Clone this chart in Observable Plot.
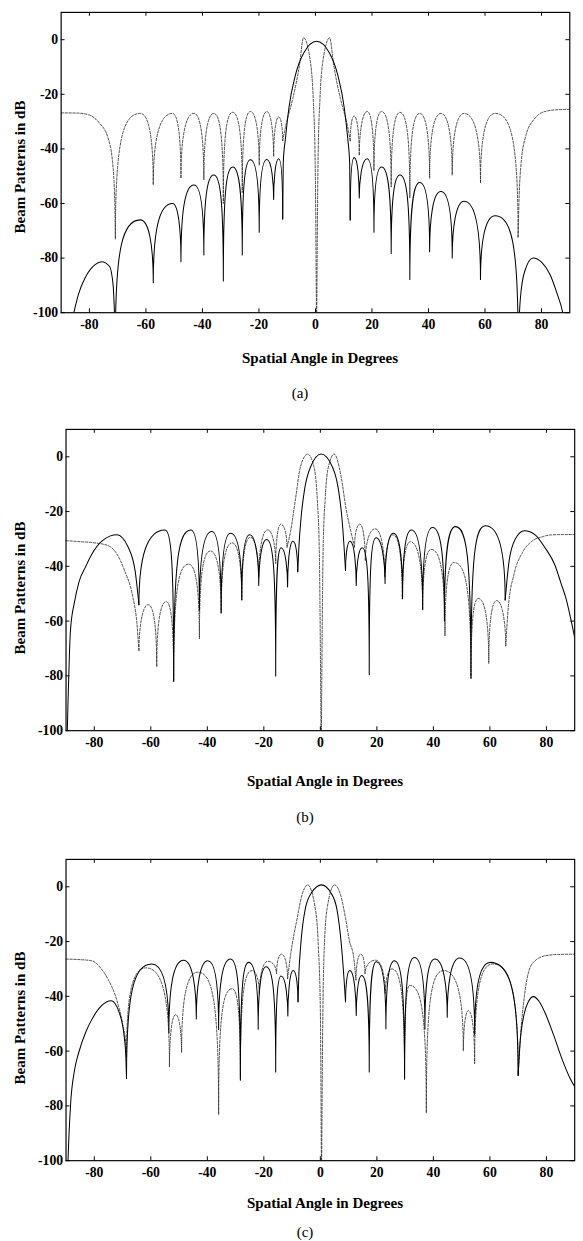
<!DOCTYPE html>
<html><head><meta charset="utf-8">
<script src="https://cdn.jsdelivr.net/npm/d3@7"></script>
<script src="https://cdn.jsdelivr.net/npm/@observablehq/plot@0.6"></script>
<style>
html,body{margin:0;padding:0;background:#fff;overflow:hidden;width:583px;height:1241px;}
#root{position:relative;width:583px;height:1241px;overflow:hidden;font-family:"Liberation Serif","Times New Roman",Times,"DejaVu Serif",serif;color:#000;}
#root svg{position:absolute;left:0;}
.ylab{position:absolute;font-weight:bold;font-size:15px;white-space:nowrap;transform:translate(-50%,-50%) rotate(-90deg);}
.xlab{position:absolute;font-weight:bold;font-size:15px;white-space:nowrap;transform:translate(-50%,-50%);}
.cap{position:absolute;font-size:15px;white-space:nowrap;transform:translate(-50%,-50%);}
</style></head><body><div id="root"></div>
<script>
// ---- axis ticks and labels ----
const xTicks = [-80, -60, -40, -20, 0, 20, 40, 60, 80];
const yTicks = [0, -20, -40, -60, -80, -100];
const yTitle = "Beam Patterns in dB";
const xTitle = "Spatial Angle in Degrees";
const captions = ["(a)", "(b)", "(c)"];

// ---- panel (a): sum pattern (solid) ----
const aSumEdgeL = [[-87.5,-110],[-85.5,-100],[-83.8,-93],[-81.5,-87.2],[-78,-82.4],[-75.7,-81.3],[-72.9,-83],[-71.6,-90],[-70.8,-110]];
const aSumSideL = [[-70.8,-110],[-62,-66],[-57.4,-89],[-50.6,-60],[-47.6,-81.3],[-43,-53.2],[-39.5,-78.9],[-36,-49.6],[-32.6,-88.4],[-29.3,-46.6],[-25.9,-78.9],[-23,-44],[-19.9,-70.5],[-17.2,-43.9],[-14.8,-58.5],[-13,-43.6],[-11.6,-65.7]];
const aSumMain  = [[-11.6,-65.7],[-11.4,-45],[-10.6,-36],[-9.4,-25],[-7.1,-13],[-4.1,-4.8],[0.4,-0.6],[4.9,-4.8],[7.9,-13],[10.2,-25],[11.4,-36],[12.1,-45],[12.3,-66]];
const aSumSideR = [[12.3,-66],[13.7,-43.2],[15.5,-58],[18.3,-43.6],[20.7,-70.5],[23.4,-46.6],[26.8,-78.3],[29.9,-49.6],[33.4,-87.8],[36.9,-52.3],[40.4,-77.7],[44.4,-55.6],[48.4,-80],[52.6,-59.2],[58.4,-87.8],[63.6,-64.5],[71.7,-110]];
const aSumEdgeR = [[71.7,-110],[72.5,-95],[74,-85],[77,-80],[80,-81.5],[83,-86],[85.5,-93],[87.5,-100],[89,-110]];
// ---- panel (a): difference pattern (dashed) ----
const aDifEdgeL = [[-90,-26.8],[-84,-26.9],[-80.3,-27.5],[-76.5,-30.5],[-73.4,-36],[-71.8,-45],[-71,-60],[-70.8,-73]];
const aDifSideL = [[-70.8,-73],[-62,-27],[-57.4,-53.2],[-50.6,-27],[-47.6,-50.8],[-43,-27],[-39.5,-51.4],[-36,-27],[-32.6,-60],[-29.3,-26.6],[-25.9,-56],[-23,-26.3],[-19.9,-46],[-17.2,-26.3],[-14.8,-42.8],[-13,-28.3],[-11.6,-37]];
const aDifMainL = [[-11.6,-37],[-10.4,-31],[-8,-21.5],[-5.7,-9.6],[-4.2,0.7],[-1.6,-9.6],[-0.8,-21.5],[-0.1,-45],[0.4,-110]];
const aDifMainR = [[0.4,-110],[0.9,-45],[1.6,-21.5],[2.4,-9.6],[5,0.7],[6.5,-9.6],[8.8,-21.5],[11.2,-31],[12.3,-37]];
const aDifSideR = [[12.3,-37],[13.7,-28],[15.5,-42.4],[18.3,-26.3],[20.7,-48],[23.4,-26.3],[26.8,-54],[29.9,-26.6],[33.4,-58],[36.9,-27],[40.4,-50.8],[44.4,-27],[48.4,-49.6],[52.6,-27],[58.4,-52.6],[63.6,-27],[71.7,-72.3]];
const aDifEdgeR = [[71.7,-72.3],[72,-60],[72.8,-45],[74.5,-35],[77.5,-29],[80.6,-26.5],[85,-25.7],[90,-25.5]];

// ---- panel (b): sum pattern (solid) ----
const bSumEdgeL = [[-89.8,-110],[-89.3,-90],[-88.8,-72],[-88.4,-63],[-87,-53],[-85.5,-46],[-83,-40],[-80.9,-35.6],[-77,-30.5],[-72,-28.5],[-68,-33],[-65.5,-42],[-64.2,-54]];
const bSumSideL = [[-64.2,-54],[-55,-26.7],[-51.9,-82],[-45.8,-26.7],[-42.8,-56],[-38.4,-27.3],[-35.1,-57],[-31.8,-27.9],[-27.8,-52.3],[-25,-28.5],[-21.8,-47],[-19,-30.2],[-15.8,-80],[-13.9,-33.2],[-11.6,-47.5],[-9.7,-30.8],[-8,-42]];
const bSumMain  = [[-8,-42],[-7.6,-33],[-6.8,-22],[-5.6,-12],[-3.6,-4],[0.3,1],[4.4,-4],[6.4,-12],[7.6,-22],[8.4,-33],[8.9,-41.5]];
const bSumSideR = [[8.9,-41.5],[10.5,-30.8],[12.7,-47],[14.8,-33.2],[17.3,-79.6],[19.7,-29.6],[22.9,-46.3],[25.8,-27.9],[29.1,-51.7],[32.2,-26.7],[36.2,-55.8],[39.7,-25.8],[43.9,-60],[47.8,-25.5],[53.3,-80.8],[58.4,-25.2],[65.4,-52.3]];
const bSumEdgeR = [[65.4,-52.3],[66.8,-38],[69,-30],[72.2,-27],[76,-28.5],[79.5,-33.2],[83,-39.5],[85.2,-46.3],[87,-52],[88.4,-58.2],[90,-66]];
// ---- panel (b): difference pattern (dashed) ----
const bDifEdgeL = [[-90,-30.6],[-85,-31],[-80,-31.4],[-75,-32.5],[-72,-35.5],[-69.3,-41.5],[-66.4,-51],[-65,-60],[-64.2,-70.7]];
const bDifSideL = [[-64.2,-70.7],[-60.9,-54],[-57.9,-76.7],[-54.5,-52.9],[-51.9,-82],[-46.6,-39.2],[-42.8,-66.5],[-38.9,-34.4],[-35.1,-57],[-31.2,-31.4],[-27.8,-52.3],[-24.8,-29.4],[-21.8,-44],[-18.7,-26.7],[-15.8,-39],[-14,-24.6],[-11.8,-33]];
const bDifMainL = [[-11.8,-33],[-10.5,-27],[-8.8,-15.4],[-7,-3.5],[-4.5,1],[-2.3,-3.5],[-1.1,-15.4],[-0.4,-33],[0.3,-110]];
const bDifMainR = [[0.3,-110],[1,-33],[1.7,-15.4],[2.9,-3.5],[4.9,1],[7.3,-7],[9.1,-19],[10.8,-27.3],[12.1,-33]];
const bDifSideR = [[12.1,-33],[14,-24.6],[15.9,-38],[19.4,-26.3],[22.8,-44],[25.7,-28.5],[29,-52],[31.8,-31],[36.2,-56],[39.2,-33.8],[44.1,-65.4],[47.3,-38.6],[53.3,-81],[55.9,-51.7],[59.6,-75.5],[62.4,-52.5],[65.6,-69]];
const bDifEdgeR = [[65.6,-69],[66.5,-55],[68.5,-43],[71.5,-35],[74.9,-30.8],[78.5,-29.2],[81.8,-28.5],[86,-28.4],[90,-28.4]];

// ---- panel (c): sum pattern (solid) ----
const cSumEdgeL = [[-89.6,-110],[-89.3,-100],[-88.4,-79.6],[-87,-67],[-85.5,-60.5],[-83,-53],[-80.9,-48.5],[-77.5,-43.5],[-74,-41.6],[-71.1,-46.1],[-69.3,-55.7],[-68.8,-63],[-68.6,-70]];
const cSumSideL = [[-68.6,-70],[-59.7,-28.2],[-53.6,-53.3],[-48.4,-26.8],[-43.9,-48.3],[-39.8,-27],[-36,-52.1],[-31.8,-26.4],[-28.3,-70.6],[-25.4,-27.6],[-22,-52],[-19.2,-29.2],[-15.8,-67.6],[-13.9,-32.6],[-11.5,-47.2],[-9.6,-30.6],[-7.9,-42]];
const cSumMain  = [[-7.9,-42],[-7.6,-31.8],[-7,-22],[-5.3,-7.9],[-3,-2],[0.4,0.7],[3.6,-2],[5.8,-7.9],[7.5,-22],[8.4,-34],[8.9,-42]];
const cSumSideR = [[8.9,-42],[10.4,-30.6],[12.7,-47],[14.6,-32.4],[17.3,-67.6],[19.8,-27.4],[23.2,-51.8],[26.2,-27],[29.8,-70.3],[33.3,-25.8],[37,-51.9],[40.5,-26.4],[44.9,-47.6],[49.3,-26],[54.6,-54],[60.1,-27.6],[70,-68.8]];
const cSumEdgeR = [[70,-68.8],[70.6,-58],[72,-47],[73.7,-41.8],[75.4,-40.1],[77.5,-42],[79.5,-46],[82.5,-54],[85.2,-62],[88.4,-70],[90,-73]];
// ---- panel (c): difference pattern (dashed) ----
const cDifEdgeL = [[-90,-26.4],[-85,-26.6],[-80.9,-27],[-77.5,-30],[-75,-34],[-72,-41.5],[-70,-50],[-68.8,-58],[-68.6,-62]];
const cDifSideL = [[-68.6,-62],[-61.8,-29.6],[-53.4,-65.8],[-51.2,-46.7],[-49.1,-60.5],[-43.4,-31.2],[-36,-83.2],[-31.2,-37.2],[-28.3,-70],[-24.2,-30.6],[-21.6,-39],[-18.6,-27.2],[-15.5,-31.8],[-13.8,-24.6],[-11.6,-33.5]];
const cDifMainL = [[-11.6,-33.5],[-10.5,-24.6],[-8.2,-11.5],[-6.5,-3],[-4.5,0.7],[-1.8,-7.9],[-0.7,-22],[0,-45],[0.4,-110]];
const cDifMainR = [[0.4,-110],[0.9,-45],[1.4,-22],[2.4,-7.9],[5,0.7],[7.3,-3.5],[9,-12],[10.3,-19.8],[11.8,-25.8],[12.6,-34]];
const cDifSideR = [[12.6,-34],[14.3,-24.6],[15.8,-31.8],[19.5,-26.8],[23,-39],[25.3,-30],[29.8,-70],[31.6,-36],[37.5,-82.6],[43.7,-30.6],[50.6,-59.9],[52.4,-45.2],[54.6,-64.6],[61,-28.2],[70,-68.8]];
const cDifEdgeR = [[70,-68.8],[70.8,-55],[72.2,-40],[74.9,-28.2],[79.5,-25.2],[84,-24.7],[90,-24.6]];

// ---- lobe curve: sharp cusp at nulls, rounded at peaks ----
function Arch(context) { this._context = context; }
Arch.prototype = {
  areaStart() { this._line = 0; },
  areaEnd() { this._line = NaN; },
  lineStart() { this._point = 0; },
  lineEnd() {
    if (this._line || (this._line !== 0 && this._point === 1)) this._context.closePath();
    this._line = 1 - this._line;
  },
  point(x, y) {
    x = +x; y = +y;
    if (this._point === 0) {
      this._point = 1;
      this._line ? this._context.lineTo(x, y) : this._context.moveTo(x, y);
    } else {
      this._point = 2;
      const x0 = this._x0, y0 = this._y0;
      if (y < y0) { // null -> peak
        const k = Math.min(28, 0.6 * (y0 - y));
        this._context.bezierCurveTo(x0, y + k, x0 + 0.3 * (x - x0), y, x, y);
      } else { // peak -> null
        const k = Math.min(28, 0.6 * (y - y0));
        this._context.bezierCurveTo(x - 0.3 * (x - x0), y0, x, y0 + k, x, y);
      }
    }
    this._x0 = x; this._y0 = y;
  }
};
const arch = (ctx) => new Arch(ctx);

const rows = (arr) => arr.map(([x, y]) => ({x, y}));
const fmt = (d) => String(d);
const sideArrays = [aSumSideL,aSumSideR,aDifSideL,aDifSideR,bSumSideL,bSumSideR,bDifSideL,bDifSideR,cSumSideL,cSumSideR,cDifSideL,cDifSideR];

const panels = [
  {left: 62, right: 582, top: 12, bottom: 319,
   sum: [aSumEdgeL, aSumSideL, aSumMain, aSumSideR, aSumEdgeR],
   dif: [aDifEdgeL, aDifSideL, aDifMainL, aDifMainR, aDifSideR, aDifEdgeR],
   xt: 320, xty: 358, cx: 300, cy: 393, yly: 167},
  {left: 67, right: 587, top: 429, bottom: 737,
   sum: [bSumEdgeL, bSumSideL, bSumMain, bSumSideR, bSumEdgeR],
   dif: [bDifEdgeL, bDifSideL, bDifMainL, bDifMainR, bDifSideR, bDifEdgeR],
   xt: 325, xty: 781, cx: 305, cy: 817, yly: 588},
  {left: 67, right: 587, top: 859, bottom: 1167,
   sum: [cSumEdgeL, cSumSideL, cSumMain, cSumSideR, cSumEdgeR],
   dif: [cDifEdgeL, cDifSideL, cDifMainL, cDifMainR, cDifSideR, cDifEdgeR],
   xt: 325, xty: 1203, cx: 305, cy: 1232, yly: 1018}
];

const root = document.getElementById("root");
const W = 596, mt = 4, mb = 28;
const serif = "'Liberation Serif', 'Times New Roman', Times, 'DejaVu Serif', serif";

panels.forEach((p, i) => {
  const ph = p.bottom - p.top, pw = p.right - p.left;
  const solid = {stroke: "#000", strokeWidth: 1.05, clip: true};
  const dashed = {stroke: "#2a2a2a", strokeWidth: 0.85, strokeDasharray: "2.4,1.6", clip: true};
  const mk = (arr, style) => Plot.line(rows(arr), {x: "x", y: "y", curve: sideArrays.includes(arr) ? arch : "monotone-x", ...style});
  const svg = Plot.plot({
    width: W, height: ph + mt + mb,
    marginTop: mt, marginBottom: mb, marginLeft: p.left, marginRight: W - p.right,
    x: {domain: [-90, 90], label: null, axis: null},
    y: {domain: [-100, 10], label: null, axis: null},
    style: {fontFamily: serif, fontSize: "14px", fontWeight: "bold", background: "transparent", color: "#000"},
    marks: [
      ...p.dif.map((a) => mk(a, dashed)),
      ...p.sum.map((a) => mk(a, solid)),
      Plot.frame({stroke: "#000", strokeWidth: 1.2}),
      Plot.tickX(xTicks, {x: (d) => d, insetTop: ph - 4, stroke: "#000"}),
      Plot.tickX(xTicks, {x: (d) => d, insetBottom: ph - 4, stroke: "#000"}),
      Plot.tickY(yTicks, {y: (d) => d, insetRight: pw - 4, stroke: "#000"}),
      Plot.tickY(yTicks, {y: (d) => d, insetLeft: pw - 4, stroke: "#000"}),
      Plot.axisX({ticks: xTicks, anchor: "bottom", tickSize: 0, tickPadding: 7, tickFormat: fmt, label: null, fontFamily: serif, fontSize: 14, fontWeight: "bold"}),
      Plot.axisY({ticks: yTicks, anchor: "left", tickSize: 0, tickPadding: 3, tickFormat: fmt, label: null, fontFamily: serif, fontSize: 14, fontWeight: "bold"})
    ]
  });
  svg.style.top = (p.top - mt) + "px";
  root.appendChild(svg);

  const yl = document.createElement("div");
  yl.className = "ylab"; yl.textContent = yTitle;
  yl.style.left = "20px"; yl.style.top = p.yly + "px";
  root.appendChild(yl);

  const xl = document.createElement("div");
  xl.className = "xlab"; xl.textContent = xTitle;
  xl.style.left = p.xt + "px"; xl.style.top = p.xty + "px";
  root.appendChild(xl);

  const c = document.createElement("div");
  c.className = "cap"; c.textContent = captions[i];
  c.style.left = p.cx + "px"; c.style.top = p.cy + "px";
  root.appendChild(c);
});
</script></body></html>
